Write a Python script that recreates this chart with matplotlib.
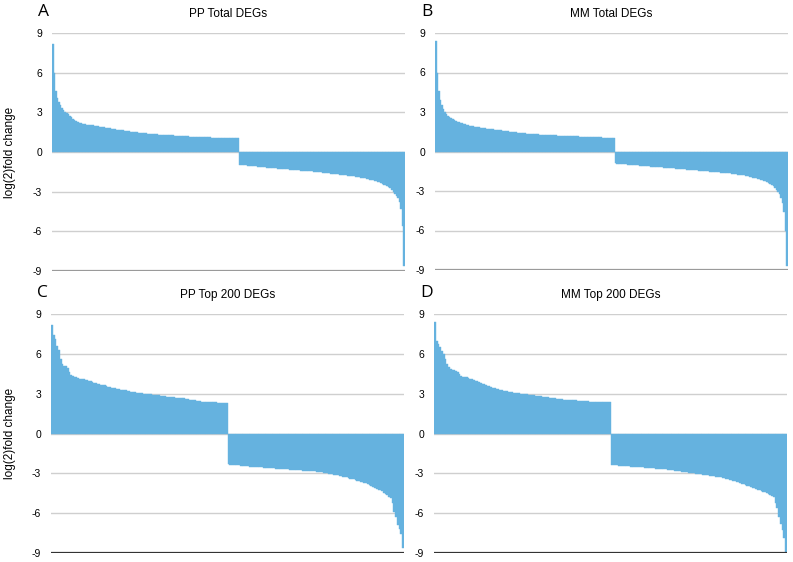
import matplotlib
matplotlib.use("Agg")
from matplotlib import pyplot as plt

plt.rcParams['font.family'] = ['Liberation Sans', 'DejaVu Sans']

# log2 fold change of each DEG, sorted
pp_total_up = [8.2, 6.0, 4.6, 4.1, 3.8, 3.55, 3.35, 3.2, 3.05, 2.95,
               2.85, 2.75, 2.62, 2.52, 2.42, 2.35, 2.28, 2.22, 2.17, 2.14,
               2.11, 2.09, 2.07, 2.06, 2.04, 2.03, 2.01, 1.99, 1.97, 1.95,
               1.92, 1.9, 1.88, 1.86, 1.84, 1.82, 1.8, 1.78, 1.76, 1.73,
               1.71, 1.69, 1.68, 1.66, 1.64, 1.63, 1.61, 1.6, 1.58, 1.56,
               1.55, 1.53, 1.52, 1.5, 1.49, 1.47, 1.46, 1.44, 1.43, 1.42,
               1.4, 1.39, 1.38, 1.37, 1.36, 1.35, 1.34, 1.33, 1.32, 1.31,
               1.3, 1.29, 1.28, 1.27, 1.27, 1.26, 1.25, 1.25, 1.24, 1.23,
               1.22, 1.22, 1.21, 1.2, 1.19, 1.19, 1.18, 1.18, 1.17, 1.16,
               1.16, 1.15, 1.15, 1.14, 1.13, 1.13, 1.12, 1.12, 1.11, 1.11,
               1.1, 1.1, 1.09, 1.09, 1.08, 1.08, 1.08, 1.07, 1.07, 1.07,
               1.06, 1.06, 1.06, 1.05, 1.05, 1.05, 1.04, 1.04, 1.03, 1.03]
pp_total_down = [-0.96, -0.98, -1.0, -1.01, -1.02, -1.04, -1.05, -1.06, -1.07, -1.08,
                 -1.09, -1.1, -1.12, -1.13, -1.15, -1.16, -1.17, -1.18, -1.19, -1.2,
                 -1.21, -1.22, -1.23, -1.24, -1.25, -1.27, -1.28, -1.29, -1.3, -1.3,
                 -1.31, -1.32, -1.33, -1.34, -1.35, -1.36, -1.37, -1.38, -1.39, -1.4,
                 -1.41, -1.42, -1.43, -1.44, -1.45, -1.46, -1.47, -1.48, -1.5, -1.51,
                 -1.52, -1.54, -1.55, -1.56, -1.58, -1.59, -1.6, -1.62, -1.63, -1.65,
                 -1.66, -1.67, -1.69, -1.7, -1.71, -1.73, -1.74, -1.76, -1.77, -1.79,
                 -1.8, -1.82, -1.84, -1.85, -1.87, -1.89, -1.91, -1.93, -1.95, -1.97,
                 -2.0, -2.02, -2.05, -2.08, -2.11, -2.14, -2.18, -2.22, -2.26, -2.3,
                 -2.35, -2.4, -2.46, -2.53, -2.6, -2.67, -2.75, -2.86, -3.0, -3.14,
                 -3.3, -3.5, -3.8, -4.3, -5.6, -8.6]

mm_total_up = [8.4, 6.0, 4.6, 3.9, 3.5, 3.2, 3.0, 2.85, 2.72, 2.62,
               2.54, 2.47, 2.4, 2.33, 2.27, 2.22, 2.17, 2.13, 2.09, 2.06,
               2.03, 2.0, 1.97, 1.94, 1.91, 1.89, 1.87, 1.85, 1.83, 1.81,
               1.79, 1.77, 1.76, 1.74, 1.72, 1.71, 1.69, 1.68, 1.66, 1.65,
               1.63, 1.62, 1.6, 1.59, 1.57, 1.56, 1.54, 1.53, 1.51, 1.5,
               1.48, 1.46, 1.45, 1.44, 1.42, 1.41, 1.4, 1.38, 1.37, 1.36,
               1.34, 1.33, 1.32, 1.32, 1.31, 1.3, 1.3, 1.29, 1.28, 1.28,
               1.27, 1.27, 1.26, 1.25, 1.25, 1.24, 1.23, 1.23, 1.22, 1.21,
               1.21, 1.2, 1.19, 1.18, 1.18, 1.17, 1.17, 1.16, 1.16, 1.15,
               1.15, 1.14, 1.14, 1.13, 1.13, 1.12, 1.12, 1.11, 1.11, 1.1,
               1.1, 1.09, 1.09, 1.08, 1.08, 1.07, 1.07, 1.07, 1.06, 1.06,
               1.05, 1.05, 1.04, 1.04, 1.03, 1.03]
mm_total_down = [-0.91, -0.92, -0.93, -0.94, -0.95, -0.96, -0.97, -0.98, -0.99, -1.0,
                 -1.01, -1.02, -1.03, -1.04, -1.05, -1.06, -1.07, -1.08, -1.09, -1.1,
                 -1.11, -1.12, -1.13, -1.14, -1.15, -1.16, -1.17, -1.18, -1.19, -1.2,
                 -1.21, -1.22, -1.23, -1.24, -1.25, -1.26, -1.27, -1.28, -1.29, -1.3,
                 -1.31, -1.32, -1.33, -1.34, -1.35, -1.36, -1.37, -1.38, -1.39, -1.4,
                 -1.41, -1.42, -1.43, -1.44, -1.45, -1.46, -1.47, -1.48, -1.49, -1.5,
                 -1.51, -1.52, -1.53, -1.54, -1.55, -1.56, -1.57, -1.59, -1.6, -1.61,
                 -1.62, -1.63, -1.64, -1.66, -1.67, -1.69, -1.7, -1.72, -1.73, -1.75,
                 -1.77, -1.78, -1.8, -1.82, -1.84, -1.87, -1.89, -1.92, -1.95, -1.98,
                 -2.01, -2.04, -2.07, -2.1, -2.14, -2.18, -2.22, -2.27, -2.33, -2.4,
                 -2.48, -2.56, -2.65, -2.75, -2.9, -3.05, -3.25, -3.5, -3.9, -4.6,
                 -6.0, -8.7]

pp_top_up = [8.2, 7.4, 7.1, 6.6, 6.3, 5.6, 5.2, 5.1, 5.05, 4.93,
             4.63, 4.4, 4.35, 4.27, 4.22, 4.17, 4.14, 4.12, 4.1, 4.05,
             4.0, 3.96, 3.93, 3.88, 3.83, 3.79, 3.76, 3.72, 3.68, 3.65,
             3.62, 3.58, 3.53, 3.49, 3.45, 3.42, 3.39, 3.36, 3.33, 3.3,
             3.28, 3.26, 3.24, 3.21, 3.18, 3.15, 3.12, 3.1, 3.08, 3.06,
             3.04, 3.02, 3.0, 2.98, 2.96, 2.95, 2.94, 2.93, 2.92, 2.91,
             2.9, 2.88, 2.86, 2.84, 2.8, 2.78, 2.76, 2.74, 2.73, 2.72,
             2.71, 2.7, 2.69, 2.68, 2.67, 2.65, 2.62, 2.58, 2.55, 2.53,
             2.51, 2.5, 2.48, 2.45, 2.42, 2.41, 2.4, 2.39, 2.38, 2.37,
             2.36, 2.35, 2.35, 2.34, 2.33, 2.32, 2.31, 2.3, 2.28, 2.27]
pp_top_down = [-2.33, -2.35, -2.36, -2.37, -2.38, -2.4, -2.41, -2.42, -2.43, -2.44,
               -2.46, -2.47, -2.49, -2.5, -2.51, -2.52, -2.53, -2.54, -2.55, -2.56,
               -2.57, -2.58, -2.59, -2.6, -2.61, -2.62, -2.63, -2.64, -2.65, -2.66,
               -2.67, -2.68, -2.69, -2.7, -2.71, -2.72, -2.73, -2.74, -2.75, -2.76,
               -2.77, -2.78, -2.79, -2.8, -2.81, -2.82, -2.83, -2.84, -2.85, -2.86,
               -2.87, -2.88, -2.9, -2.92, -2.94, -2.97, -2.99, -3.02, -3.05, -3.08,
               -3.1, -3.12, -3.14, -3.17, -3.2, -3.24, -3.27, -3.31, -3.35, -3.39,
               -3.42, -3.46, -3.5, -3.54, -3.58, -3.62, -3.66, -3.7, -3.75, -3.8,
               -3.87, -3.94, -4.01, -4.08, -4.15, -4.22, -4.28, -4.36, -4.45, -4.55,
               -4.65, -4.75, -4.85, -5.2, -5.9, -6.3, -6.9, -7.2, -7.6, -8.6]

mm_top_up = [8.4, 7.0, 6.75, 6.5, 6.2, 6.0, 5.6, 5.25, 5.0, 4.85,
             4.8, 4.75, 4.7, 4.6, 4.45, 4.32, 4.28, 4.25, 4.22, 4.18,
             4.13, 4.08, 4.03, 3.97, 3.92, 3.87, 3.82, 3.76, 3.71, 3.66,
             3.6, 3.55, 3.5, 3.45, 3.4, 3.36, 3.32, 3.29, 3.26, 3.23,
             3.2, 3.17, 3.15, 3.12, 3.1, 3.08, 3.06, 3.04, 3.02, 3.0,
             2.98, 2.96, 2.94, 2.92, 2.91, 2.9, 2.88, 2.86, 2.84, 2.82,
             2.8, 2.78, 2.76, 2.74, 2.72, 2.7, 2.68, 2.66, 2.64, 2.62,
             2.6, 2.58, 2.57, 2.56, 2.55, 2.54, 2.53, 2.52, 2.51, 2.5,
             2.49, 2.48, 2.47, 2.46, 2.45, 2.44, 2.43, 2.42, 2.41, 2.4,
             2.4, 2.39, 2.38, 2.38, 2.37, 2.37, 2.36, 2.36, 2.35, 2.35]
mm_top_down = [-2.38, -2.39, -2.4, -2.41, -2.42, -2.43, -2.44, -2.45, -2.46, -2.47,
               -2.48, -2.49, -2.5, -2.51, -2.52, -2.53, -2.54, -2.55, -2.56, -2.57,
               -2.59, -2.6, -2.61, -2.62, -2.63, -2.65, -2.66, -2.67, -2.68, -2.69,
               -2.7, -2.71, -2.72, -2.74, -2.75, -2.77, -2.79, -2.81, -2.83, -2.85,
               -2.87, -2.89, -2.91, -2.93, -2.95, -2.97, -2.99, -3.0, -3.02, -3.04,
               -3.06, -3.08, -3.1, -3.12, -3.14, -3.16, -3.18, -3.2, -3.22, -3.24,
               -3.26, -3.28, -3.3, -3.33, -3.37, -3.41, -3.45, -3.49, -3.53, -3.57,
               -3.6, -3.64, -3.68, -3.72, -3.77, -3.82, -3.87, -3.92, -3.97, -4.02,
               -4.07, -4.12, -4.17, -4.22, -4.27, -4.32, -4.37, -4.42, -4.47, -4.55,
               -4.62, -4.7, -4.75, -5.2, -5.6, -6.3, -6.8, -7.3, -7.9, -8.9]

titles = ["PP Total DEGs", "MM Total DEGs", "PP Top 200 DEGs", "MM Top 200 DEGs"]
letters = ["A", "B", "C", "D"]
yticks = [-9, -6, -3, 0, 3, 6, 9]

W, H = 793, 562
barColor = "#65b2df"

# axes boxes in pixels: left, top, right, bottom
boxes = [(52, 33, 405, 271), (435, 33, 788, 270),
         (51, 314, 404, 553), (434, 314, 787, 553)]
series = [pp_total_up + pp_total_down, mm_total_up + mm_total_down,
          pp_top_up + pp_top_down, mm_top_up + mm_top_down]
bottomColors = ["#9a9a9a", "#9a9a9a", "#333333", "#333333"]

fig = plt.figure(figsize=(W / 100, H / 100), dpi=100)

for k in range(4):
    l, t, r, b = boxes[k]
    ax = fig.add_axes([l / W, 1 - b / H, (r - l) / W, (b - t) / H])
    values = series[k]
    n = len(values)

    for yv in [-6, -3, 0, 3, 6, 9]:
        ax.axhline(yv, color="#cfcfcf", linewidth=1.0, zorder=0)
    ax.axhline(-9, color=bottomColors[k], linewidth=1.6, zorder=3)

    ax.bar(range(n), values, width=1.0, color=barColor,
           edgecolor=barColor, linewidth=0.3, zorder=2)

    ax.set_xlim(-0.5, n - 0.5)
    ax.set_ylim(-9, 9)
    ax.set_yticks(yticks)
    ax.set_yticklabels([str(v) for v in yticks], fontsize=7.5)
    ax.set_xticks([])
    ax.tick_params(axis="y", length=0, pad=7)
    for s in ax.spines.values():
        s.set_visible(False)
    ax.patch.set_alpha(0)

    fig.text((l + r) / 2 / W, 1 - (t - 19) / H, titles[k], ha="center",
             va="center", fontsize=8.5)
    fig.text((l - 14) / W, 1 - (t - 21) / H, letters[k], ha="left",
             va="center", fontsize=12.5, family=["Open Sans", "DejaVu Sans"])
    if k % 2 == 0:
        fig.text(10 / W, 1 - ((t + b) / 2) / H, "log(2)fold change",
                 rotation=90, ha="center", va="center", fontsize=8.5)

plt.savefig("out.png", dpi=100)
